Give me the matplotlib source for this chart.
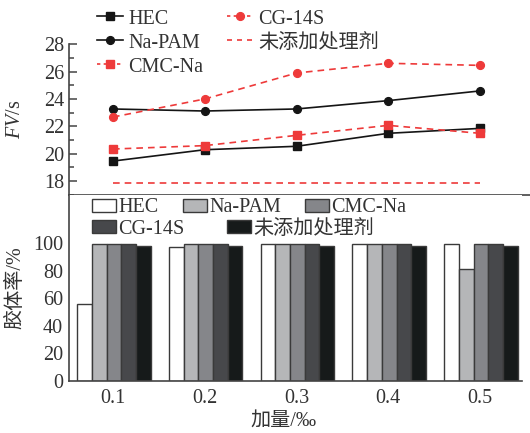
import matplotlib
matplotlib.use("Agg")
import matplotlib.pyplot as plt
from matplotlib.lines import Line2D
from matplotlib.patches import Patch
import numpy as np

plt.rcParams['font.family'] = ['Liberation Serif', 'Noto Sans CJK SC', 'DejaVu Sans']
plt.rcParams['mathtext.fontset'] = 'custom'
plt.rcParams['mathtext.it'] = 'Liberation Serif:italic'
plt.rcParams['mathtext.rm'] = 'Liberation Serif'

# ---- data ----
doses = ['0.1', '0.2', '0.3', '0.4', '0.5']
fv_hec = [19.46, 20.29, 20.54, 21.49, 21.85]
fv_napam = [23.27, 23.12, 23.27, 23.88, 24.59]
fv_cmc = [20.34, 20.59, 21.34, 22.07, 21.49]
fv_cg = [22.68, 24.00, 25.90, 26.61, 26.46]
fv_none = [17.83, 17.83, 17.83, 17.83, 17.83]

col_hec = [56, 97, 99.3, 99.3, 99.3]
col_napam = [99.3, 99.3, 99.3, 99.3, 81]
col_cmc = [99.3, 99.3, 99.3, 99.3, 99.3]
col_cg = [99.3, 99.3, 99.3, 99.3, 99.3]
col_none = [98.3, 98.3, 98.3, 98.3, 98.3]

bar_names = ['HEC', 'Na-PAM', 'CMC-Na', 'CG-14S', '未添加处理剂']
bar_colors = ['#ffffff', '#b5b6b8', '#85868a', '#47484b', '#161a1a']

W, H = 530, 433
FS = 14.5
TXT = '#333333'
SP = '#444444'
RED = '#ee3a3a'
BLK = '#151515'

fig = plt.figure(figsize=(W / 100, H / 100), dpi=100)

def fx(px):
    return px / W

def fy(py):
    return 1 - py / H

x = np.arange(len(doses))
px_per_unit = 91.75
x0_px = 113

# top axes
top_l, top_r, top_t, top_b = 68.5, 530, 44.3, 194.7
ax1 = fig.add_axes([fx(top_l), fy(top_b), fx(top_r - top_l), (top_b - top_t) / H])
ax1.set_xlim(-(x0_px - top_l) / px_per_unit, (top_r - x0_px) / px_per_unit)
ax1.set_ylim(17, 28)

ms = 5.6
lw = 1.2
ax1.plot(x, fv_hec, color=BLK, lw=lw, marker='s', ms=ms, label='HEC')
ax1.plot(x, fv_napam, color=BLK, lw=lw, marker='o', ms=ms, label='Na-PAM')
ax1.plot(x, fv_cmc, color=RED, lw=lw, ls=(0, (4, 3)), marker='s', ms=ms, label='CMC-Na')
ax1.plot(x, fv_cg, color=RED, lw=lw, ls=(0, (4, 3)), marker='o', ms=ms, label='CG-14S')
ax1.plot(x, fv_none, color=RED, lw=lw, ls=(0, (4, 3)), label='未添加处理剂')

for s in ['top', 'right']:
    ax1.spines[s].set_visible(False)
for s in ['left', 'bottom']:
    ax1.spines[s].set_color(SP)
    ax1.spines[s].set_linewidth(1.2)
ax1.set_yticks([18, 20, 22, 24, 26, 28])
ax1.set_yticks(np.arange(17, 28, 1), minor=True)
ax1.tick_params(axis='y', which='major', direction='in', length=6, width=1.1, color=SP,
                labelsize=FS, labelcolor=TXT, pad=3)
ax1.tick_params(axis='y', which='minor', direction='in', length=3.5, width=1.1, color=SP)
ax1.set_xticks([])
ax1.set_ylabel('$FV$/s', fontsize=FS, color=TXT, labelpad=4)
ax1.yaxis.set_label_coords(-(68.5 - 25) / (top_r - top_l), 0.5)

# bottom axes
bot_l, bot_r, bot_t, bot_b = 68.5, 522, 194.7, 381
ax2 = fig.add_axes([fx(bot_l), fy(bot_b), fx(bot_r - bot_l), (bot_b - bot_t) / H])
ax2.set_xlim(-(x0_px - bot_l) / px_per_unit, (bot_r - x0_px) / px_per_unit)
ax2.set_ylim(0, 135.3)

bw = 0.16
series = [col_hec, col_napam, col_cmc, col_cg, col_none]
for i, (vals, c, n) in enumerate(zip(series, bar_colors, bar_names)):
    ax2.bar(x + (i - 2) * bw + 0.01, vals, width=bw, color=c, edgecolor='#3a3a3a',
            linewidth=1.0, label=n, zorder=2)

for s in ['top', 'right']:
    ax2.spines[s].set_visible(False)
for s in ['left', 'bottom']:
    ax2.spines[s].set_color(SP)
    ax2.spines[s].set_linewidth(1.2)
ax2.set_yticks([0, 20, 40, 60, 80, 100])
ax2.tick_params(axis='y', length=0, labelsize=FS, labelcolor=TXT, pad=4)
ax2.set_xticks(x)
ax2.set_xticklabels(doses)
ax2.tick_params(axis='x', length=0, labelsize=FS, labelcolor=TXT, pad=6)
ax2.set_ylabel('胶体率/%', fontsize=FS, color=TXT)
ax2.yaxis.set_label_coords(-(68.5 - 25) / (bot_r - bot_l), 0.5)
ax2.set_xlabel('加量/‰', fontsize=FS, color=TXT)
ax2.xaxis.set_label_coords((283 - bot_l) / (bot_r - bot_l), -(421 - bot_b) / (bot_b - bot_t))
ax2.xaxis.label.set_verticalalignment('center')

# legends (single entries placed at reference positions)
def put_legend(handle, label, xpx, ypx, patch=False):
    kw = dict(handles=[handle], labels=[label], loc='center left',
              bbox_to_anchor=(fx(xpx), fy(ypx)), bbox_transform=fig.transFigure,
              frameon=False, borderpad=0, borderaxespad=0, fontsize=FS,
              labelcolor=TXT)
    if patch:
        kw.update(handlelength=1.2, handleheight=0.65, handletextpad=0.1)
    else:
        kw.update(handlelength=1.3, handletextpad=0.25)
    leg = fig.legend(**kw)
    return leg

h_hec = Line2D([], [], color=BLK, lw=lw, marker='s', ms=ms)
h_napam = Line2D([], [], color=BLK, lw=lw, marker='o', ms=ms)
h_cmc = Line2D([], [], color=RED, lw=lw, ls=(0, (2, 2)), marker='s', ms=ms)
h_cg = Line2D([], [], color=RED, lw=lw, ls=(0, (2, 2)), marker='o', ms=ms)
h_none = Line2D([], [], color=RED, lw=lw, ls=(0, (3, 3)))

put_legend(h_hec, 'HEC', 97, 19)
put_legend(h_napam, 'Na-PAM', 97, 43)
put_legend(h_cmc, 'CMC-Na', 97, 67)
put_legend(h_cg, 'CG-14S', 227, 19)
put_legend(h_none, '未添加处理剂', 227, 43)

bpos = [(92, 208), (183, 208), (305, 208), (92, 229), (227, 229)]
for (bx, by), c, n in zip(bpos, bar_colors, bar_names):
    ph = Patch(facecolor=c, edgecolor='#3a3a3a', linewidth=1.0)
    put_legend(ph, n, bx, by, patch=True)

fig.savefig('out.png', dpi=100)
